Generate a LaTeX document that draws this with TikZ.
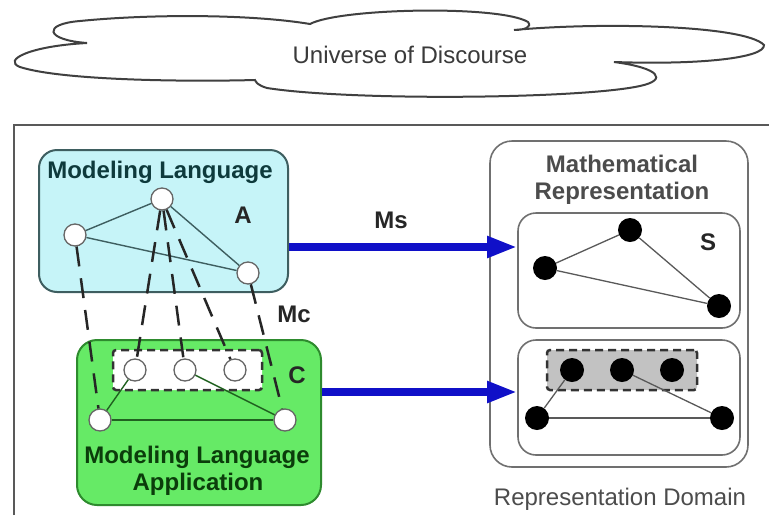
\documentclass[tikz,border=0pt]{standalone}
\usepackage{fontspec}
\setmainfont{Liberation Sans}
\usetikzlibrary{arrows.meta}
\definecolor{cyanfill}{HTML}{C6F4F8}
\definecolor{cyanline}{HTML}{3E5E60}
\definecolor{greenfill}{HTML}{66EA66}
\definecolor{greenline}{HTML}{2E8B2E}
\definecolor{mapblue}{HTML}{1010C8}
\definecolor{txtgray}{HTML}{3A3A3A}
\definecolor{boxgray}{HTML}{707070}
\definecolor{tealtext}{HTML}{0E3A3C}
\definecolor{greentext}{HTML}{0B3D0B}
\definecolor{dashfill}{HTML}{C2C2C2}
\tikzset{
  bigtxt/.style={inner sep=0pt, anchor=base, font=\fontsize{24}{26}\selectfont},
  boldtxt/.style={bigtxt, font=\fontsize{24}{26}\selectfont\bfseries},
  wnode/.style={circle, draw=black!60, fill=white, line width=1.3pt, minimum size=22pt, inner sep=0pt},
  bnode/.style={circle, fill=black, minimum size=24pt, inner sep=0pt},
  edgeA/.style={line width=1.4pt, draw=cyanline},
  edgeC/.style={line width=1.4pt, draw=greenline!70!black},
  edgeR/.style={line width=1.3pt, draw=black!65},
  mapdash/.style={line width=2.5pt, draw=black!85, dash pattern=on 20pt off 12pt},
  rectdash/.style={line width=2.5pt, draw=black!80, dash pattern=on 8pt off 5pt, rounded corners=3pt, inner sep=0pt},
  graybox/.style={draw=boxgray, line width=1.6pt, fill=white, inner sep=0pt},
  maparrow/.style={line width=8pt, draw=mapblue, -{Triangle[length=30pt, width=20pt]}}
}
\begin{document}
\begin{tikzpicture}[x=1pt, y=-1pt]
\useasboundingbox (0,0) rectangle (769,515);
\fill[white] (0,0) rectangle (769,515);

% cloud
\draw[line width=2pt, draw=black!75, fill=white]
  (87,43) .. controls (45,40) and (42,24) .. (80,21)
  .. controls (150,14) and (250,14) .. (310,24)
  .. controls (340,8) and (500,5) .. (528,22)
  .. controls (532,27) and (525,30) .. (514,30)
  .. controls (600,22) and (745,25) .. (764,45)
  .. controls (765,58) and (700,65) .. (614,62)
  .. controls (660,68) and (668,80) .. (640,86)
  .. controls (580,99) and (350,101) .. (267,88)
  .. controls (257,85) and (256,82) .. (255,80)
  .. controls (180,82) and (60,80) .. (20,67)
  .. controls (2,60) and (30,46) .. (87,43) -- cycle;
\node[bigtxt, text=txtgray] (ud) at (410,63) {Universe of Discourse};

% outer frame
\draw[line width=2.5pt, draw=black!65] (14,515) -- (14,125) -- (769,125);

% boxes
\node[draw=cyanline, fill=cyanfill, line width=2pt, rounded corners=18pt,
      minimum width=249pt, minimum height=142pt, inner sep=0pt] (boxA) at (163.5,221) {};
\node[draw=greenline, fill=greenfill, line width=2pt, rounded corners=20pt,
      minimum width=244pt, minimum height=165pt, inner sep=0pt] (boxC) at (199,422.5) {};
\node[rectdash, fill=white, minimum width=149pt, minimum height=40pt] (rectC) at (187.5,370) {};
\node[graybox, rounded corners=22pt, minimum width=258pt, minimum height=326pt] (boxR) at (619,304) {};
\node[boldtxt, text=black!70] (tR1) at (622,172) {Mathematical};
\node[boldtxt, text=black!70] (tR2) at (622,199) {Representation};
\node[graybox, rounded corners=18pt, minimum width=222pt, minimum height=115pt] (boxS) at (629,270.5) {};
\node[graybox, rounded corners=18pt, minimum width=222pt, minimum height=115pt] (boxL) at (629,397.5) {};
\node[rectdash, fill=dashfill, minimum width=150pt, minimum height=40pt] (rectL) at (622,370) {};

% texts
\node[boldtxt, text=tealtext] (tA) at (160,178) {Modeling Language};
\node[boldtxt, text=black!85] (lA) at (243,223) {A};
\node[boldtxt, text=black!85] (lMs) at (391,228) {Ms};
\node[boldtxt, text=black!85] (lMc) at (294,322) {Mc};
\node[boldtxt, text=black!85] (lC) at (297,383) {C};
\node[boldtxt, text=greentext] (tC1) at (197,463) {Modeling Language};
\node[boldtxt, text=greentext] (tC2) at (198,490) {Application};
\node[boldtxt, text=black!85] (lS) at (708,250) {S};
\node[bigtxt, text=black!70] (tRD) at (620,505) {Representation Domain};

% graph nodes
\node[wnode] (a1) at (162,199) {};
\node[wnode] (a2) at (75,235) {};
\node[wnode] (a3) at (248,273) {};
\node[wnode] (c1) at (135,370) {};
\node[wnode] (c2) at (185,370) {};
\node[wnode] (c3) at (235,370) {};
\node[wnode] (c4) at (100,420) {};
\node[wnode] (c5) at (285,420) {};
\node[bnode] (s1) at (630,230) {};
\node[bnode] (s2) at (545,268) {};
\node[bnode] (s3) at (719,306) {};
\node[bnode] (l1) at (572,370) {};
\node[bnode] (l2) at (622,370) {};
\node[bnode] (l3) at (672,370) {};
\node[bnode] (l4) at (537,418) {};
\node[bnode] (l5) at (722,418) {};

% edges (stop at node borders)
\draw[edgeA] (a1) -- (a2);
\draw[edgeA] (a1) -- (a3);
\draw[edgeA] (a2) -- (a3);
\draw[edgeC] (c4) -- (c5);
\draw[edgeC] (c1) -- (c4);
\draw[edgeC] (c2) -- (c5);
\draw[edgeR] (s1) -- (s2);
\draw[edgeR] (s1) -- (s3);
\draw[edgeR] (s2) -- (s3);
\draw[edgeR] (l4) -- (l5);
\draw[edgeR] (l1) -- (l4);
\draw[edgeR] (l2) -- (l5);
\draw[mapdash] (a1) -- (c1);
\draw[mapdash] (a1) -- (c2);
\draw[mapdash] (a1) -- (c3);
\draw[mapdash] (a2) -- (c4);
\draw[mapdash] (a3) -- (c5);

% mapping arrows
\coordinate (ms) at (0,247);
\coordinate (mc) at (0,392);
\draw[maparrow] (boxA.east |- ms) -- (boxS.west |- ms);
\draw[maparrow] (boxC.east |- mc) -- (boxL.west |- mc);
\end{tikzpicture}
\end{document}
